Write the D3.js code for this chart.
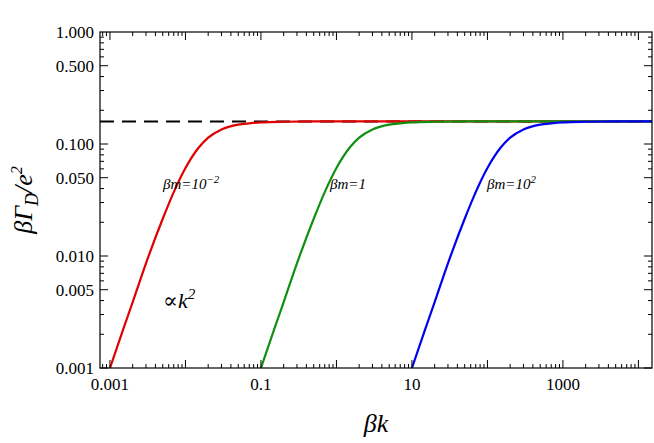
<!DOCTYPE html>
<meta charset="utf-8">
<style>
body { margin: 0; background: #fff; }
text { font-family: "Liberation Serif", "DejaVu Serif", serif; }
</style>
<svg width="654" height="443"></svg>
<script src="https://d3js.org/d3.v7.min.js"></script>
<script>
// values
var kRed = [0.001, 0.0015, 0.002, 0.003, 0.005, 0.007, 0.01, 0.015, 0.02, 0.03, 0.05, 0.07, 0.1, 0.2, 0.5, 1, 10, 100, 1000, 15000];
var fRed = [0.001, 0.00222, 0.00388, 0.0086, 0.0215, 0.0372, 0.061, 0.093, 0.114, 0.135, 0.149, 0.153, 0.156, 0.158, 0.159, 0.159, 0.159, 0.159, 0.159, 0.159];
var kGreen = kRed.map(function(k) { return k * 100; });
var kBlue = kRed.map(function(k) { return k * 10000; });
var plateau = 0.159;
var xTicks = [0.001, 0.1, 10, 1000];
var yTicks = [1, 0.5, 0.1, 0.05, 0.01, 0.005, 0.001];

var svg = d3.select("svg"),
    pLeft = 100, pRight = 652, pTop = 32, pBottom = 368;

var x = d3.scaleLog().domain([Math.pow(10, -3.132), Math.pow(10, 4.18)]).range([pLeft, pRight]);
var y = d3.scaleLog().domain([0.001, 1]).range([pBottom, pTop]);

svg.append("clipPath").attr("id", "c").append("rect")
  .attr("x", pLeft).attr("y", pTop).attr("width", pRight - pLeft).attr("height", pBottom - pTop);

var plot = svg.append("g").attr("clip-path", "url(#c)");

plot.append("line")
  .attr("x1", pLeft).attr("x2", pRight).attr("y1", y(plateau)).attr("y2", y(plateau))
  .attr("stroke", "#000").attr("stroke-width", 2).attr("stroke-dasharray", "14,8");

var line = d3.line().curve(d3.curveMonotoneX)
  .x(function(d) { return x(d[0]); }).y(function(d) { return y(d[1]); });

[[kRed, "#e00000"], [kGreen, "#109010"], [kBlue, "#0000ee"]].forEach(function(s) {
  plot.append("path")
    .datum(s[0].map(function(k, i) { return [k, fRed[i]]; }))
    .attr("d", line).attr("fill", "none").attr("stroke", s[1]).attr("stroke-width", 2.2);
});

// minor ticks
var minorY = [];
for (var e = -3; e < 0; e++) for (var m = 1; m < 10; m++) minorY.push(m * Math.pow(10, e));
var minorX = [];
for (var e2 = -4; e2 <= 4; e2++) for (var m2 = 1; m2 < 10; m2++) {
  var v = m2 * Math.pow(10, e2);
  if (v >= x.domain()[0] && v <= x.domain()[1]) minorX.push(v);
}

var axes = svg.append("g").attr("stroke", "#000");
minorY.forEach(function(v) {
  var major = yTicks.indexOf(+v.toPrecision(3)) >= 0;
  var len = major ? 8 : 4;
  axes.append("line").attr("x1", pLeft).attr("x2", pLeft + len).attr("y1", y(v)).attr("y2", y(v));
  axes.append("line").attr("x1", pRight).attr("x2", pRight - len).attr("y1", y(v)).attr("y2", y(v));
});
minorX.forEach(function(v) {
  var lg = Math.log10(v), major = Math.abs(lg - Math.round(lg)) < 1e-9;
  var len = major ? 8 : 4;
  axes.append("line").attr("y1", pBottom).attr("y2", pBottom - len).attr("x1", x(v)).attr("x2", x(v));
  axes.append("line").attr("y1", pTop).attr("y2", pTop + len).attr("x1", x(v)).attr("x2", x(v));
});
svg.append("rect").attr("x", pLeft).attr("y", pTop).attr("width", pRight - pLeft).attr("height", pBottom - pTop)
  .attr("fill", "none").attr("stroke", "#000").attr("stroke-width", 1.2);

svg.selectAll(".yl").data(yTicks).enter().append("text")
  .attr("x", pLeft - 6).attr("y", function(d) { return y(d) + 6; })
  .attr("text-anchor", "end").attr("font-size", 17).text(function(d) { return d.toFixed(3); });
svg.selectAll(".xl").data(xTicks).enter().append("text")
  .attr("x", function(d) { return x(d); }).attr("y", pBottom + 22)
  .attr("text-anchor", "middle").attr("font-size", 17).text(function(d) { return String(d); });

svg.append("text").attr("x", 376).attr("y", 432).attr("text-anchor", "middle")
  .attr("font-size", 26).attr("font-style", "italic").text("βk");
var yl = svg.append("text").attr("transform", "translate(32,200) rotate(-90)")
  .attr("text-anchor", "middle").attr("font-size", 26).attr("font-style", "italic");
yl.append("tspan").text("βΓ");
yl.append("tspan").attr("dy", 6).attr("font-size", 18).text("D");
yl.append("tspan").attr("dy", -6).text("/e");
yl.append("tspan").attr("dy", -10).attr("font-size", 16).text("2");

function label(xp, yp, base, sup) {
  var t = svg.append("text").attr("x", xp).attr("y", yp).attr("font-size", 15).attr("font-style", "italic");
  t.append("tspan").text(base);
  if (sup) t.append("tspan").attr("dy", -6).attr("font-size", 11).text(sup);
}
label(163, 189, "βm=10", "−2");
label(330, 189, "βm=1");
label(487, 189, "βm=10", "2");
var p = svg.append("text").attr("x", 163).attr("y", 308).attr("font-size", 22).attr("font-style", "italic");
p.append("tspan").text("∝k");
p.append("tspan").attr("dy", -9).attr("font-size", 15).text("2");
</script>
